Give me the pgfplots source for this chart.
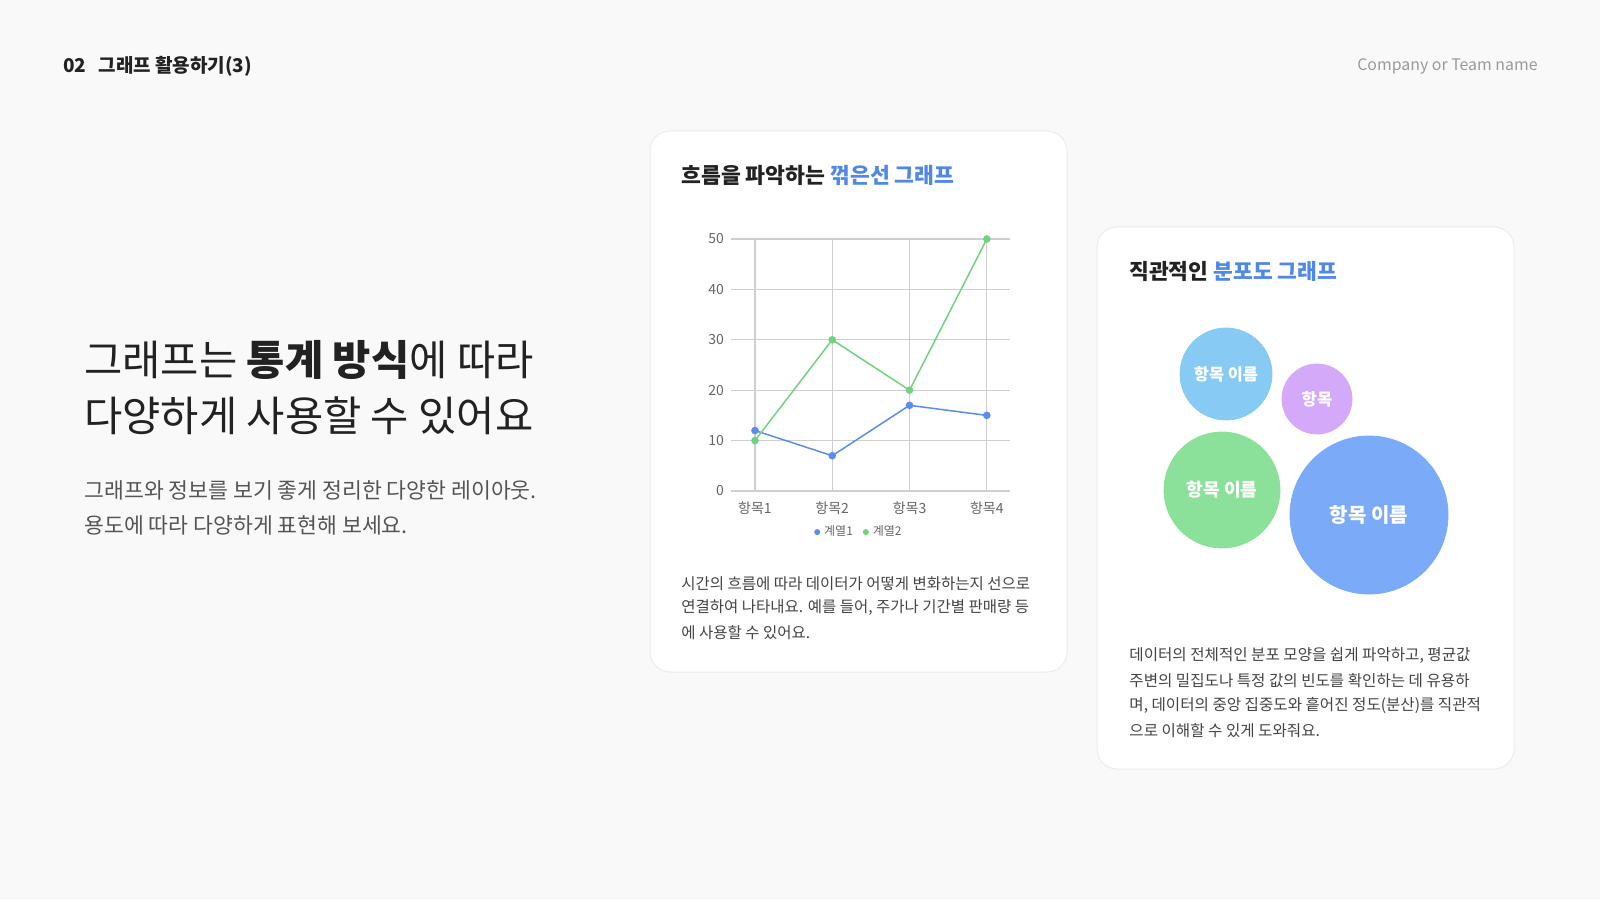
\documentclass[border=0pt]{standalone}
\usepackage{pgfplots}
\pgfplotsset{compat=1.18}
\usepackage{fontspec}
\setmainfont{Noto Sans CJK KR}
\definecolor{bg}{HTML}{F9F9F9}
\definecolor{cardline}{HTML}{ECECEC}
\definecolor{tdark}{HTML}{222222}
\definecolor{tgray}{HTML}{555555}
\definecolor{tlight}{HTML}{9A9A9A}
\definecolor{tdesc}{HTML}{444444}
\definecolor{tblue}{HTML}{5088E8}
\definecolor{sblue}{HTML}{5B8DEF}
\definecolor{sgreen}{HTML}{6FD37F}
\definecolor{gridc}{HTML}{CFCFCF}
\definecolor{ticklab}{HTML}{666666}
\definecolor{blight}{HTML}{87CBF5}
\definecolor{bpurple}{HTML}{D5A9F9}
\definecolor{bgreen}{HTML}{8BE09A}
\definecolor{bblue}{HTML}{7BABF8}
\begin{document}
\begin{tikzpicture}[x=0.5pt,y=0.5pt]
% background
\fill[bg] (0,0) rectangle (1600,900);
% header
\node[anchor=west,text=tdark,font=\fontsize{9.5pt}{11pt}\selectfont\bfseries,inner sep=0] at (63,834) {02\hspace{6pt}그래프 활용하기(3)};
\node[anchor=east,text=tlight,font=\fontsize{7.95pt}{10pt}\selectfont,inner sep=0] at (1538,834) {Company or Team name};
% big heading
\node[anchor=west,text=tdark,font=\fontsize{20.8pt}{24pt}\selectfont,inner sep=0] at (84,540) {그래프는 \textbf{통계 방식}에 따라};
\node[anchor=west,text=tdark,font=\fontsize{20.8pt}{24pt}\selectfont,inner sep=0] at (84,484) {다양하게 사용할 수 있어요};
\node[anchor=west,text=tgray,font=\fontsize{10.8pt}{12pt}\selectfont,inner sep=0] at (84,410) {그래프와 정보를 보기 좋게 정리한 다양한 레이아웃.};
\node[anchor=west,text=tgray,font=\fontsize{10.8pt}{12pt}\selectfont,inner sep=0] at (84,375) {용도에 따라 다양하게 표현해 보세요.};
% left card
\filldraw[fill=white,draw=cardline,line width=0.5pt,rounded corners=10pt] (650,228) rectangle (1067,769);
\node[anchor=west,text=tdark,font=\fontsize{10.8pt}{12pt}\selectfont\bfseries,inner sep=0] at (681,725) {흐름을 파악하는 \textcolor{tblue}{꺾은선 그래프}};
\begin{axis}[
  at={(365.5pt,204.5pt)}, anchor=south west,
  scale only axis, width=139.5pt, height=126pt,
  xmin=-0.31, xmax=3.3, ymin=0, ymax=50,
  xtick={0,1,2,3}, xticklabels={항목1,항목2,항목3,항목4},
  ytick={0,10,20,30,40,50},
  grid=major, grid style={draw=gridc,line width=0.55pt},
  axis line style={draw=none},
  major tick length=0pt,
  tick label style={font=\fontsize{7pt}{8pt}\selectfont,text=ticklab},
  /pgf/number format/assume math mode=true,
  xticklabel style={yshift=-2pt},
  yticklabel style={xshift=0pt},
  clip=false,
  legend columns=2,
  legend style={at={(0.462,-0.163)},anchor=center,draw=none,fill=none,
    font=\fontsize{6pt}{7pt}\selectfont,text=ticklab,inner sep=0pt,
    /tikz/every even column/.append style={column sep=3pt}},
  legend image code/.code={\fill (0.12cm,0cm) circle (1.1pt);},
]
\addplot[sblue,line width=0.75pt,mark=*,mark size=1.5pt] coordinates {(0,12) (1,7) (2,17) (3,15)};
\addlegendentry{계열1}
\addplot[sgreen,line width=0.75pt,mark=*,mark size=1.5pt] coordinates {(0,10) (1,30) (2,20) (3,50)};
\addlegendentry{계열2}
\end{axis}
\node[anchor=west,text=tdesc,font=\fontsize{7.75pt}{9pt}\selectfont,inner sep=0] at (681,316) {시간의 흐름에 따라 데이터가 어떻게 변화하는지 선으로};
\node[anchor=west,text=tdesc,font=\fontsize{7.75pt}{9pt}\selectfont,inner sep=0] at (681,292) {연결하여 나타내요. 예를 들어, 주가나 기간별 판매량 등};
\node[anchor=west,text=tdesc,font=\fontsize{7.75pt}{9pt}\selectfont,inner sep=0] at (681,267) {에 사용할 수 있어요.};
% right card
\filldraw[fill=white,draw=cardline,line width=0.5pt,rounded corners=10pt] (1097,131) rectangle (1514,673);
\node[anchor=west,text=tdark,font=\fontsize{10.75pt}{12pt}\selectfont\bfseries,inner sep=0] at (1129,629) {직관적인 \textcolor{tblue}{분포도 그래프}};
\begin{axis}[
  at={(548.5pt,140pt)}, anchor=south west,
  scale only axis, width=208.5pt, height=170pt,
  xmin=1097, xmax=1514, ymin=280, ymax=620, y dir=reverse,
  hide axis, clip=false,
]
\addplot[only marks,mark=*,mark size=23pt,color=blight,
  nodes near coords={항목 이름},
  nodes near coords style={font=\fontsize{8.2pt}{9pt}\selectfont\bfseries,anchor=center,text=white}]
  coordinates {(1226,374)};
\addplot[only marks,mark=*,mark size=17.5pt,color=bpurple,
  nodes near coords={항목},
  nodes near coords style={font=\fontsize{8.3pt}{9pt}\selectfont\bfseries,anchor=center,text=white}]
  coordinates {(1317,399)};
\addplot[only marks,mark=*,mark size=29pt,color=bgreen,
  nodes near coords={항목 이름},
  nodes near coords style={font=\fontsize{9.1pt}{10pt}\selectfont\bfseries,anchor=center,text=white}]
  coordinates {(1222,490)};
\addplot[only marks,mark=*,mark size=39.5pt,color=bblue,
  nodes near coords={항목 이름},
  nodes near coords style={font=\fontsize{10pt}{11pt}\selectfont\bfseries,anchor=center,text=white}]
  coordinates {(1369,515)};
\end{axis}
\node[anchor=west,text=tdesc,font=\fontsize{7.8pt}{9pt}\selectfont,inner sep=0] at (1129,244) {데이터의 전체적인 분포 모양을 쉽게 파악하고, 평균값};
\node[anchor=west,text=tdesc,font=\fontsize{7.8pt}{9pt}\selectfont,inner sep=0] at (1129,219) {주변의 밀집도나 특정 값의 빈도를 확인하는 데 유용하};
\node[anchor=west,text=tdesc,font=\fontsize{7.8pt}{9pt}\selectfont,inner sep=0] at (1129,195) {며, 데이터의 중앙 집중도와 흩어진 정도(분산)를 직관적};
\node[anchor=west,text=tdesc,font=\fontsize{7.8pt}{9pt}\selectfont,inner sep=0] at (1129,169) {으로 이해할 수 있게 도와줘요.};
\end{tikzpicture}
\end{document}
